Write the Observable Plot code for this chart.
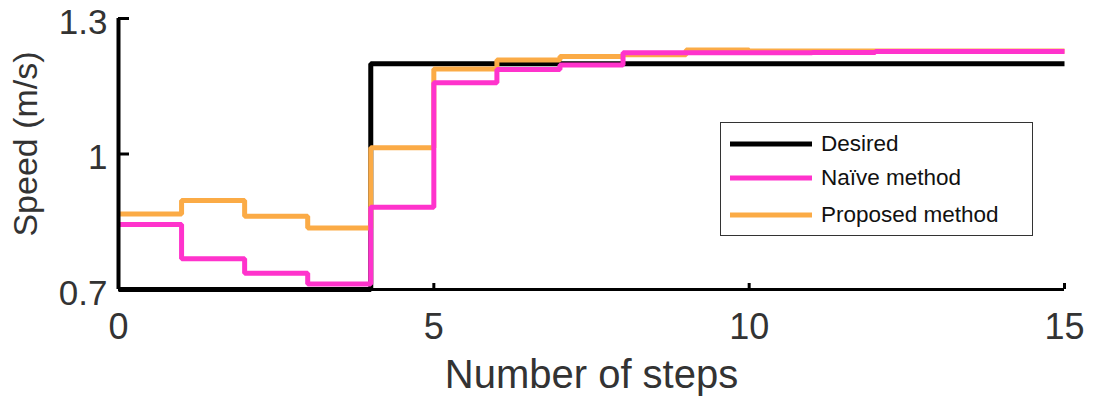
<!DOCTYPE html>
<html>
<head>
<meta charset="utf-8">
<script src="https://cdn.jsdelivr.net/npm/d3@7"></script>
<script src="https://cdn.jsdelivr.net/npm/@observablehq/plot@0.6"></script>
<style>
  html, body { margin: 0; padding: 0; background: #fff; }
  #wrap { position: relative; width: 1094px; height: 398px; font-family: "Liberation Sans", Arial, sans-serif; }
  #legend { position: absolute; left: 720px; top: 122px; width: 313px; height: 114px;
            border: 1.5px solid #333; background: #fff; box-sizing: border-box; }
  .row { position: absolute; left: 0; height: 30px; display: flex; align-items: center; }
  .row svg { margin-left: 9px; margin-right: 9px; }
  .row span { font-size: 22.5px; color: #111; }
</style>
</head>
<body>
<div id="wrap"></div>
<script>
// ---- data ----
const steps = [0,1,2,3,4,5,6,7,8,9,10,11,12,13,14,15];
const desired  = [0.7,0.7,0.7,0.7,1.2,1.2,1.2,1.2,1.2,1.2,1.2,1.2,1.2,1.2,1.2,1.2];
const naive    = [0.844,0.768,0.736,0.712,0.882,1.158,1.187,1.197,1.224,1.224,1.224,1.225,1.227,1.227,1.227,1.227];
const proposed = [0.867,0.897,0.862,0.836,1.014,1.188,1.208,1.216,1.220,1.230,1.228,1.228,1.228,1.228,1.228,1.228];
const seriesNames = ["Desired", "Naïve method", "Proposed method"];
const seriesColors = ["#000000", "#ff33cc", "#fbab46"];
const xTicks = [0, 5, 10, 15];
const yTicks = [0.7, 1, 1.3];
const xLabel = "Number of steps";
const yLabel = "Speed (m/s)";

const seriesValues = [desired, naive, proposed];
const rows = seriesNames.map((name, i) => steps.map((s, j) => ({step: s, speed: seriesValues[i][j], series: name})));
const drawOrder = [0, 2, 1];

const lineOpts = {x: "step", y: "speed", curve: "step-after", strokeWidth: 5, strokeLinejoin: "miter", strokeLinecap: "butt"};

const plot = Plot.plot({
  width: 1094,
  height: 398,
  marginLeft: 118,
  marginRight: 30,
  marginTop: 18,
  marginBottom: 109,
  style: {fontFamily: "Liberation Sans, Arial, sans-serif", color: "#333", background: "#fff", overflow: "visible"},
  x: {domain: [0, 15]},
  y: {domain: [0.7, 1.3]},
  marks: [
    Plot.axisX({ticks: xTicks, tickSize: 0, tickPadding: 24, fontSize: 36, label: null, tickFormat: d => String(d)}),
    Plot.axisY({ticks: yTicks, tickSize: 0, tickPadding: 11, dy: 4, fontSize: 35, label: null, tickFormat: d => String(d)}),
    Plot.text([yLabel], {frameAnchor: "left", dx: -92, dy: -10, rotate: -90, fontSize: 34, fill: "#333", textAnchor: "middle"}),
    Plot.text([xLabel], {frameAnchor: "bottom", dy: 98, lineAnchor: "bottom", fontSize: 40, fill: "#333", textAnchor: "middle"}),
    ...drawOrder.map(i => Plot.line(rows[i], {...lineOpts, stroke: seriesColors[i]})),
    Plot.ruleX([0], {stroke: "#000", strokeWidth: 4}),
    Plot.ruleY([0.7], {stroke: "#000", strokeWidth: 3}),
    Plot.ruleX(xTicks.slice(1), {x: d => d, y1: 0.7, y2: 0.7, insetTop: -6, stroke: "#000", strokeWidth: 3}),
    Plot.ruleY(yTicks.slice(1), {y: d => d, x1: 0, x2: 0, insetRight: -11, stroke: "#000", strokeWidth: 3})
  ]
});
const wrap = document.getElementById("wrap");
wrap.appendChild(plot);

// legend overlay
const legend = document.createElement("div");
legend.id = "legend";
const rowTops = [6, 40, 77];
seriesNames.forEach((name, i) => {
  const r = document.createElement("div");
  r.className = "row";
  r.style.top = rowTops[i] + "px";
  r.innerHTML = `<svg width="82" height="8"><line x1="0" x2="82" y1="4" y2="4" stroke="${seriesColors[i]}" stroke-width="5"/></svg><span>${name}</span>`;
  legend.appendChild(r);
});
wrap.appendChild(legend);
</script>
</body>
</html>
